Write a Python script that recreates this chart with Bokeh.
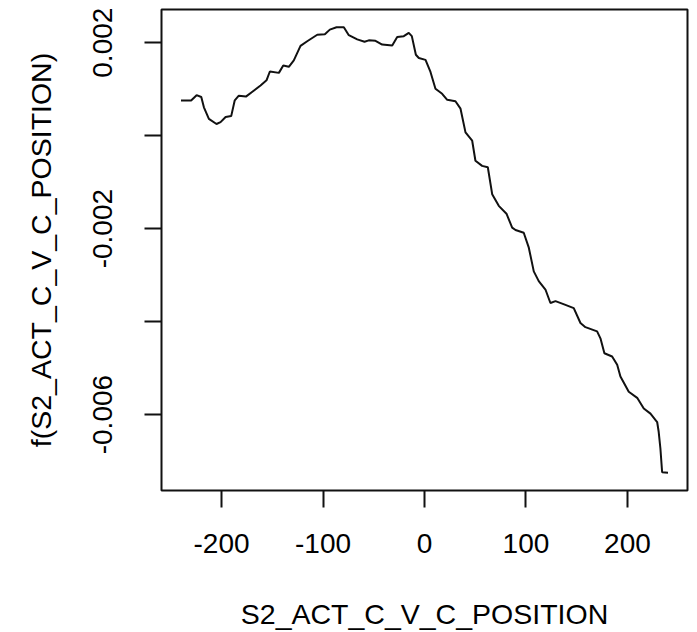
from bokeh.plotting import figure
from bokeh.models import FixedTicker, Range1d
from bokeh.embed import file_html
from bokeh.resources import INLINE

# partial dependence curve (x, f(x) in units of 1)
x_vals = [-240, -230, -224.6, -220, -217.4, -212.5, -205, -201, -196, -190.5,
          -187, -183, -176, -170, -161.6, -155.7, -152.4, -143.5, -139.2, -133.7,
          -128.8, -122.2, -115.6, -105.7, -98.2, -93.3, -86.7, -79.5, -74.6, -66.3,
          -59.1, -54.9, -48.3, -41.7, -31.8, -26.9, -20.4, -15.5, -12.5, -8.5,
          -5.6, 1.0, 5.9, 10.8, 17.4, 22.4, 30.5, 35.5, 40.4, 47.0,
          50.2, 56.8, 62.4, 66.7, 73.2, 80.8, 86.4, 89.7, 97.8, 102.8,
          107.7, 112.6, 119.2, 124.1, 129.1, 138.9, 147.1, 153.7, 158.6, 170.1,
          173.4, 177.3, 184.9, 189.9, 193.1, 201.3, 209.6, 216.1, 222.7, 229.3,
          230.8, 232.5, 234.2, 240]
y_vals = [0.756, 0.756, 0.87, 0.83, 0.61, 0.36, 0.25, 0.29, 0.40, 0.42,
          0.76, 0.86, 0.84, 0.94, 1.08, 1.19, 1.38, 1.35, 1.51, 1.48,
          1.62, 1.93, 2.03, 2.17, 2.18, 2.28, 2.33, 2.33, 2.16, 2.07,
          2.02, 2.05, 2.04, 1.96, 1.94, 2.12, 2.14, 2.21, 2.14, 1.74,
          1.67, 1.63, 1.37, 1.01, 0.90, 0.77, 0.74, 0.58, 0.07, -0.11,
          -0.54, -0.65, -0.68, -1.26, -1.51, -1.68, -1.98, -2.03, -2.09, -2.41,
          -2.92, -3.13, -3.31, -3.60, -3.56, -3.64, -3.71, -4.03, -4.12, -4.21,
          -4.36, -4.68, -4.75, -4.93, -5.18, -5.51, -5.64, -5.87, -5.98, -6.16,
          -6.37, -6.73, -7.24, -7.25]
y_vals = [v / 1000.0 for v in y_vals]

x_ticks = [-200, -100, 0, 100, 200]
x_tick_labels = {-200: "-200", -100: "-100", 0: "0", 100: "100", 200: "200"}
y_ticks = [-0.006, -0.004, -0.002, 0.0, 0.002]
y_tick_labels = {-0.006: "-0.006", -0.004: "", -0.002: "-0.002", 0.0: "", 0.002: "0.002"}

x_title = "S2_ACT_C_V_C_POSITION"
y_title = "f(S2_ACT_C_V_C_POSITION)"

xr = max(x_vals) - min(x_vals)
yr = max(y_vals) - min(y_vals)

p = figure(width=697, height=632, output_backend="svg", toolbar_location=None,
           x_range=Range1d(min(x_vals) - 0.04 * xr, max(x_vals) + 0.04 * xr),
           y_range=Range1d(min(y_vals) - 0.04 * yr, max(y_vals) + 0.04 * yr),
           min_border_left=161, min_border_right=10, min_border_top=9, min_border_bottom=142)
p.background_fill_color = "white"
p.border_fill_color = "white"
p.grid.visible = False
p.outline_line_color = "#111111"
p.outline_line_width = 2
p.outline_line_alpha = 1.0

p.line(x_vals, y_vals, line_color="#111111", line_width=2)

font = "Liberation Sans"
for ax in (p.xaxis[0], p.yaxis[0]):
    ax.axis_line_color = None
    ax.major_tick_line_color = "#111111"
    ax.major_tick_line_width = 2
    ax.major_tick_out = 17
    ax.major_tick_in = 0
    ax.minor_tick_line_color = None
    ax.major_label_text_font = font
    ax.major_label_text_font_size = "28px"
    ax.major_label_text_color = "black"
    ax.axis_label_text_font = font
    ax.axis_label_text_font_size = "28.5px"
    ax.axis_label_text_font_style = "normal"
    ax.axis_label_text_color = "black"

p.xaxis[0].ticker = FixedTicker(ticks=x_ticks)
p.xaxis[0].major_label_overrides = x_tick_labels
p.xaxis[0].axis_label = x_title
p.xaxis[0].major_label_standoff = 26
p.xaxis[0].axis_label_standoff = 42

p.yaxis[0].ticker = FixedTicker(ticks=y_ticks)
p.yaxis[0].major_label_overrides = y_tick_labels
p.yaxis[0].major_label_orientation = "vertical"
p.yaxis[0].axis_label = y_title
p.yaxis[0].major_label_standoff = 32
p.yaxis[0].axis_label_standoff = 34

open("out.html", "w").write(file_html(p, INLINE))
